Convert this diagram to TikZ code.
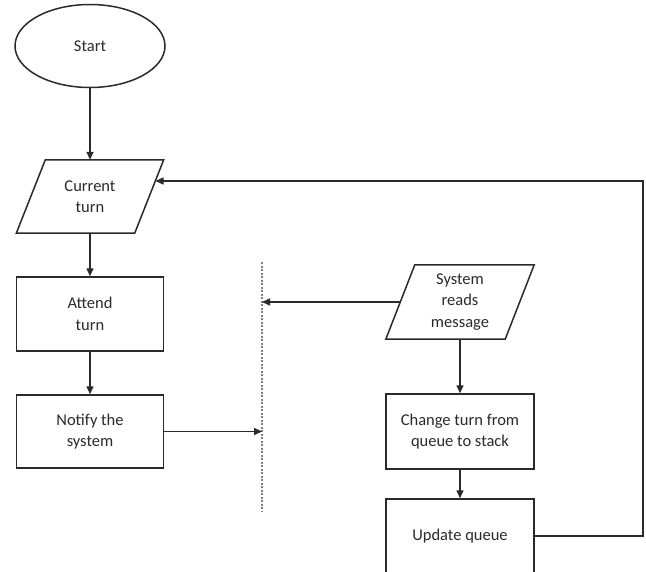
\documentclass[tikz,border=0pt]{standalone}
\usepackage{fontspec}
\setmainfont{Carlito}
\usetikzlibrary{shapes.geometric,arrows.meta,calc}
\definecolor{ink}{HTML}{2A2A2A}
\begin{document}
\begin{tikzpicture}[x=1pt,y=-1pt,
  every node/.style={font=\fontsize{16.5}{21.5}\selectfont, text=ink, align=center},
  box/.style={draw=ink, line width=1.5pt, rectangle, inner sep=0pt},
  pbox/.style={rectangle, inner sep=0pt},
  conn/.style={draw=ink, line width=1.5pt, -{Triangle[length=8pt,width=7pt]}},
  plain/.style={draw=ink, line width=1.5pt},
  divider/.style={draw=gray, line width=1.2pt, dash pattern=on 2pt off 1.5pt}]
\clip (0,0) rectangle (646,571);
\useasboundingbox (0,0) rectangle (646,571);

\node[draw=ink, line width=1.5pt, ellipse, minimum width=150pt, minimum height=83pt, inner sep=0pt] (start) at (90,46) {Start};

\node[pbox, minimum width=147pt, minimum height=73pt] (ct) at (90,196.5) {Current\\turn};
\draw[plain] ($(ct.north west)+(29,0)$) -- (ct.north east) -- ($(ct.south east)+(-29,0)$) -- (ct.south west) -- cycle;

\node[box, minimum width=147pt, minimum height=74pt] (at) at (90,314) {Attend\\turn};
\node[box, minimum width=147pt, minimum height=73pt] (nt) at (90,431.5) {Notify the\\system};

\node[pbox, minimum width=148pt, minimum height=74pt] (sr) at (460,302) {System\\reads\\message};
\draw[plain] ($(sr.north west)+(29,0)$) -- (sr.north east) -- ($(sr.south east)+(-29,0)$) -- (sr.south west) -- cycle;

\node[box, minimum width=148pt, minimum height=75pt] (ch) at (460,431.5) {Change turn from\\queue to stack};
\node[box, minimum width=148pt, minimum height=74pt] (up) at (460,536) {Update queue};

\coordinate (dtop) at (262,262);
\coordinate (dbot) at (262,512);
\draw[divider] (dtop) -- (dbot);

\coordinate (ctin) at (155.5,181);
\coordinate (srin) at ($(sr.west)+(14.5,0)$);
\coordinate (loopa) at (643,536);
\coordinate (loopb) at (643,181);

\draw[conn] (start.south) -- (ct.north);
\draw[conn] (ct.south) -- (at.north);
\draw[conn] (at.south) -- (nt.north);
\draw[conn] (nt.east) -- (nt.east -| dtop);
\draw[conn] (srin) -- (srin -| dtop);
\draw[conn] (sr.south) -- (ch.north);
\draw[conn] (ch.south) -- (up.north);
\draw[conn] (up.east) -- (loopa) -- (loopb) -- (ctin);
\end{tikzpicture}
\end{document}
